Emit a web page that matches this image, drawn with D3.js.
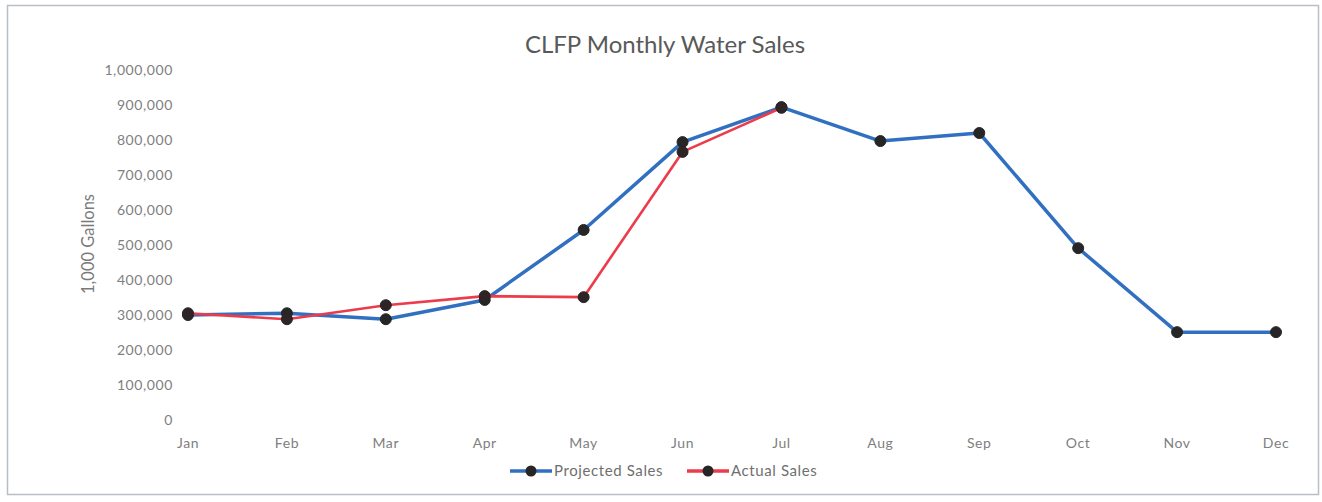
<!DOCTYPE html>
<html>
<head>
<meta charset="utf-8">
<script src="https://cdn.jsdelivr.net/npm/d3@7"></script>
<style>
	body { margin: 0; background: #fff; }
	svg { display: block; font-family: Lato, "Open Sans", sans-serif; }
	.tick-label { fill: #808080; font-size: 14px; letter-spacing: 0.6px; }
	.legend-text { fill: #6f6f6f; font-size: 15px; letter-spacing: 0.6px; }
</style>
</head>
<body>
<svg id="chart"></svg>
<script>
const months = ["Jan", "Feb", "Mar", "Apr", "May", "Jun", "Jul", "Aug", "Sep", "Oct", "Nov", "Dec"];
const projectedSales = [300000, 305000, 288000, 343000, 543000, 794000, 894000, 797000, 820000, 491000, 251000, 251000];
const actualSales = [305000, 288000, 328000, 354000, 351000, 766000, 892000];
const yTicks = [0, 100000, 200000, 300000, 400000, 500000, 600000, 700000, 800000, 900000, 1000000];

const width = 1322;
const height = 502;
const svg = d3.select("#chart").attr("width", width).attr("height", height);

// outer chart frame
svg.append("rect").attr("x", 7.5).attr("y", 5.5).attr("width", 1311).attr("height", 489)
	.attr("fill", "#fff").attr("stroke", "#b9bec6").attr("stroke-width", 1.5);

const x = d3.scalePoint().domain(months).range([188, 1276]);
const y = d3.scaleLinear().domain([0, 1000000]).range([420, 70]);
const fmt = d3.format(",");

svg.append("text").attr("x", 665).attr("y", 53).attr("text-anchor", "middle")
	.attr("fill", "#595959").style("font-size", "24px").text("CLFP Monthly Water Sales");

svg.selectAll(".ylab").data(yTicks).join("text")
	.attr("class", "tick-label").attr("x", 173).attr("y", (d) => y(d)).attr("dy", "0.35em")
	.attr("text-anchor", "end").text(fmt);

svg.selectAll(".xlab").data(months).join("text")
	.attr("class", "tick-label").attr("x", (d) => x(d)).attr("y", 448)
	.attr("text-anchor", "middle").text((d) => d);

svg.append("text").attr("transform", "translate(94,244) rotate(-90)").attr("text-anchor", "middle")
	.attr("fill", "#7a7a7a").style("font-size", "16.5px").text("1,000 Gallons");

const line = d3.line().x((d, i) => x(months[i])).y((d) => y(d));

function drawSeries(values, color, lw) {
	svg.append("path").datum(values).attr("d", line).attr("fill", "none")
		.attr("stroke", color).attr("stroke-width", lw).attr("stroke-linejoin", "round");
}

function drawMarkers(values, fill) {
	svg.append("g").selectAll("circle").data(values).join("circle")
		.attr("cx", (d, i) => x(months[i])).attr("cy", (d) => y(d)).attr("r", 5.5)
		.attr("fill", fill).attr("stroke", "#262626").attr("stroke-width", 1);
}

drawSeries(projectedSales, "#3170c0", 3.5);
drawMarkers(projectedSales, "#262626");
drawSeries(actualSales, "#ec3b4a", 2.6);
drawMarkers(actualSales, "#2e2426");

// legend
const legend = [
	{ label: "Projected Sales", color: "#3170c0", x0: 510 },
	{ label: "Actual Sales", color: "#ec3b4a", x0: 687 },
];
const ly = 471;
for (const item of legend) {
	svg.append("line").attr("x1", item.x0).attr("x2", item.x0 + 42).attr("y1", ly).attr("y2", ly)
		.attr("stroke", item.color).attr("stroke-width", 3.5);
	svg.append("circle").attr("cx", item.x0 + 21).attr("cy", ly).attr("r", 5.5).attr("fill", "#262626");
	svg.append("text").attr("class", "legend-text").attr("x", item.x0 + 44).attr("y", ly).attr("dy", "0.35em").text(item.label);
}
</script>
</body>
</html>
